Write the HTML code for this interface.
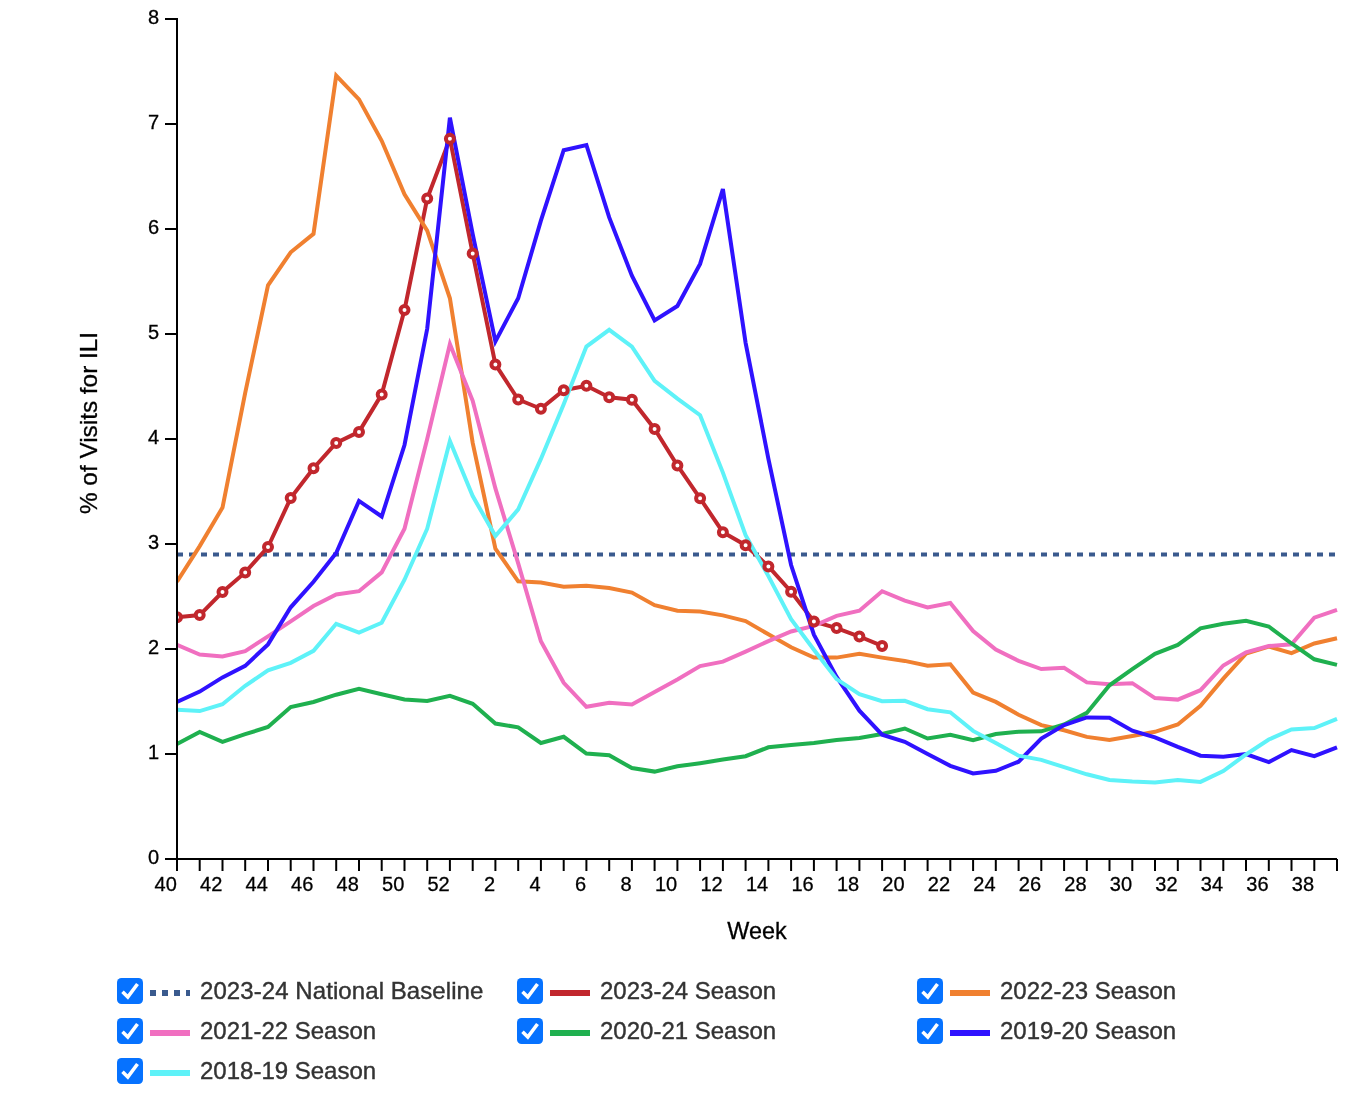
<!DOCTYPE html>
<html lang="en"><head><meta charset="utf-8"><title>ILI Chart</title>
<style>html,body{margin:0;padding:0;background:#fff;}svg{display:block;font-family:'Liberation Sans', Arial, Helvetica, sans-serif;}</style></head><body>
<svg width="1354" height="1094" viewBox="0 0 1354 1094">
<rect width="1354" height="1094" fill="#fff"/>
<defs><clipPath id="clip"><rect x="177" y="0" width="1170" height="870"/></clipPath></defs>
<g clip-path="url(#clip)" fill="none" stroke-width="4">
<line x1="177" y1="554.5" x2="1337" y2="554.5" stroke="#3a5a8e" stroke-width="4" stroke-dasharray="6 6"/>
<polyline points="177.0,617.3 199.7,615.1 222.5,592.0 245.2,572.4 268.0,547.0 290.7,498.1 313.5,468.2 336.2,442.9 359.0,431.9 381.7,394.4 404.5,310.0 427.2,198.5 449.9,138.7 472.7,253.5 495.4,364.4 518.2,399.5 540.9,408.8 563.7,390.2 586.4,385.8 609.2,397.2 631.9,399.7 654.6,428.9 677.4,465.5 700.1,498.3 722.9,532.2 745.6,545.2 768.4,566.4 791.1,591.7 813.9,621.4 836.6,628.1 859.4,636.5 882.1,645.9" stroke="#c1272d"/>
<polyline points="177.0,581.8 199.7,546.1 222.5,507.6 245.2,392.8 268.0,285.4 290.7,252.3 313.5,233.9 336.2,75.7 359.0,99.4 381.7,140.8 404.5,194.4 427.2,230.6 449.9,298.3 472.7,442.9 495.4,548.7 518.2,581.3 540.9,582.6 563.7,586.8 586.4,585.7 609.2,588.1 631.9,592.6 654.6,605.2 677.4,610.8 700.1,611.6 722.9,615.4 745.6,621.0 768.4,634.3 791.1,647.2 813.9,657.6 836.6,657.6 859.4,653.8 882.1,657.6 904.8,660.9 927.6,665.8 950.3,664.2 973.1,692.5 995.8,701.9 1018.6,714.7 1041.3,725.1 1064.1,730.3 1086.8,736.9 1109.5,740.0 1132.3,736.0 1155.0,731.8 1177.8,724.5 1200.5,705.8 1223.3,678.6 1246.0,653.7 1268.8,646.5 1291.5,653.1 1314.3,643.5 1337.0,638.3" stroke="#f08030"/>
<polyline points="177.0,644.8 199.7,654.5 222.5,656.5 245.2,651.1 268.0,636.4 290.7,621.3 313.5,606.0 336.2,594.4 359.0,591.2 381.7,572.4 404.5,528.7 427.2,439.0 449.9,344.0 472.7,400.8 495.4,488.4 518.2,563.3 540.9,641.3 563.7,682.8 586.4,706.8 609.2,702.8 631.9,704.5 654.6,692.0 677.4,679.5 700.1,666.1 722.9,661.6 745.6,651.6 768.4,641.1 791.1,631.5 813.9,625.9 836.6,615.9 859.4,610.7 882.1,591.2 904.8,600.7 927.6,607.5 950.3,603.0 973.1,631.1 995.8,649.6 1018.6,660.9 1041.3,669.1 1064.1,667.7 1086.8,682.4 1109.5,684.2 1132.3,683.2 1155.0,698.1 1177.8,699.6 1200.5,690.2 1223.3,665.5 1246.0,652.3 1268.8,646.1 1291.5,644.3 1314.3,617.6 1337.0,609.9" stroke="#f06fc0"/>
<polyline points="177.0,744.1 199.7,732.0 222.5,741.9 245.2,734.2 268.0,727.0 290.7,707.1 313.5,702.0 336.2,694.7 359.0,688.9 381.7,694.3 404.5,699.4 427.2,700.9 449.9,695.8 472.7,703.8 495.4,723.5 518.2,727.3 540.9,743.0 563.7,736.8 586.4,753.5 609.2,755.3 631.9,768.1 654.6,771.6 677.4,766.3 700.1,763.2 722.9,759.6 745.6,756.2 768.4,747.3 791.1,745.1 813.9,742.9 836.6,740.0 859.4,738.0 882.1,734.0 904.8,728.5 927.6,738.5 950.3,734.7 973.1,740.1 995.8,734.0 1018.6,731.8 1041.3,731.3 1064.1,724.5 1086.8,712.9 1109.5,685.3 1132.3,669.1 1155.0,653.8 1177.8,644.9 1200.5,628.3 1223.3,623.7 1246.0,620.8 1268.8,626.5 1291.5,643.5 1314.3,659.3 1337.0,664.9" stroke="#1fb04f"/>
<polyline points="177.0,702.0 199.7,691.6 222.5,677.4 245.2,665.9 268.0,644.4 290.7,607.3 313.5,581.8 336.2,553.0 359.0,500.9 381.7,516.5 404.5,445.0 427.2,328.8 449.9,117.7 472.7,234.2 495.4,341.4 518.2,298.3 540.9,220.6 563.7,150.2 586.4,145.0 609.2,217.4 631.9,275.7 654.6,320.4 677.4,306.0 700.1,263.9 722.9,189.1 745.6,342.8 768.4,458.9 791.1,565.0 813.9,634.6 836.6,676.9 859.4,710.7 882.1,734.7 904.8,741.8 927.6,754.0 950.3,765.8 973.1,773.4 995.8,770.8 1018.6,761.7 1041.3,738.5 1064.1,725.1 1086.8,717.4 1109.5,717.8 1132.3,730.7 1155.0,737.3 1177.8,746.9 1200.5,755.7 1223.3,756.8 1246.0,754.0 1268.8,762.1 1291.5,750.1 1314.3,756.1 1337.0,747.3" stroke="#2f12ff"/>
<polyline points="177.0,709.8 199.7,711.1 222.5,704.2 245.2,685.8 268.0,670.3 290.7,662.8 313.5,650.8 336.2,623.8 359.0,632.7 381.7,622.8 404.5,579.7 427.2,528.7 449.9,441.1 472.7,496.0 495.4,536.1 518.2,509.3 540.9,458.9 563.7,404.3 586.4,346.6 609.2,329.8 631.9,346.6 654.6,380.8 677.4,398.6 700.1,415.2 722.9,472.6 745.6,535.2 768.4,576.1 791.1,619.1 813.9,649.8 836.6,679.1 859.4,694.1 882.1,701.2 904.8,700.8 927.6,709.2 950.3,712.3 973.1,730.9 995.8,743.0 1018.6,755.7 1041.3,759.9 1064.1,767.2 1086.8,774.3 1109.5,779.9 1132.3,781.6 1155.0,782.4 1177.8,779.9 1200.5,781.9 1223.3,771.0 1246.0,754.5 1268.8,739.5 1291.5,729.5 1314.3,728.0 1337.0,718.9" stroke="#5ef2f8"/>
<g fill="#fff" stroke="#c1272d" stroke-width="4">
<circle cx="177.0" cy="617.3" r="4"/>
<circle cx="199.7" cy="615.1" r="4"/>
<circle cx="222.5" cy="592.0" r="4"/>
<circle cx="245.2" cy="572.4" r="4"/>
<circle cx="268.0" cy="547.0" r="4"/>
<circle cx="290.7" cy="498.1" r="4"/>
<circle cx="313.5" cy="468.2" r="4"/>
<circle cx="336.2" cy="442.9" r="4"/>
<circle cx="359.0" cy="431.9" r="4"/>
<circle cx="381.7" cy="394.4" r="4"/>
<circle cx="404.5" cy="310.0" r="4"/>
<circle cx="427.2" cy="198.5" r="4"/>
<circle cx="449.9" cy="138.7" r="4"/>
<circle cx="472.7" cy="253.5" r="4"/>
<circle cx="495.4" cy="364.4" r="4"/>
<circle cx="518.2" cy="399.5" r="4"/>
<circle cx="540.9" cy="408.8" r="4"/>
<circle cx="563.7" cy="390.2" r="4"/>
<circle cx="586.4" cy="385.8" r="4"/>
<circle cx="609.2" cy="397.2" r="4"/>
<circle cx="631.9" cy="399.7" r="4"/>
<circle cx="654.6" cy="428.9" r="4"/>
<circle cx="677.4" cy="465.5" r="4"/>
<circle cx="700.1" cy="498.3" r="4"/>
<circle cx="722.9" cy="532.2" r="4"/>
<circle cx="745.6" cy="545.2" r="4"/>
<circle cx="768.4" cy="566.4" r="4"/>
<circle cx="791.1" cy="591.7" r="4"/>
<circle cx="813.9" cy="621.4" r="4"/>
<circle cx="836.6" cy="628.1" r="4"/>
<circle cx="859.4" cy="636.5" r="4"/>
<circle cx="882.1" cy="645.9" r="4"/>
</g></g>
<g stroke="#000" stroke-width="2" fill="none">
<line x1="177" y1="18" x2="177" y2="860"/>
<line x1="165" y1="859" x2="1337" y2="859"/>
<line x1="165" y1="859" x2="177" y2="859"/>
<line x1="165" y1="754" x2="177" y2="754"/>
<line x1="165" y1="649" x2="177" y2="649"/>
<line x1="165" y1="544" x2="177" y2="544"/>
<line x1="165" y1="439" x2="177" y2="439"/>
<line x1="165" y1="334" x2="177" y2="334"/>
<line x1="165" y1="229" x2="177" y2="229"/>
<line x1="165" y1="124" x2="177" y2="124"/>
<line x1="165" y1="19" x2="177" y2="19"/>
<line x1="177.0" y1="859" x2="177.0" y2="871"/>
<line x1="199.7" y1="859" x2="199.7" y2="871"/>
<line x1="222.5" y1="859" x2="222.5" y2="871"/>
<line x1="245.2" y1="859" x2="245.2" y2="871"/>
<line x1="268.0" y1="859" x2="268.0" y2="871"/>
<line x1="290.7" y1="859" x2="290.7" y2="871"/>
<line x1="313.5" y1="859" x2="313.5" y2="871"/>
<line x1="336.2" y1="859" x2="336.2" y2="871"/>
<line x1="359.0" y1="859" x2="359.0" y2="871"/>
<line x1="381.7" y1="859" x2="381.7" y2="871"/>
<line x1="404.5" y1="859" x2="404.5" y2="871"/>
<line x1="427.2" y1="859" x2="427.2" y2="871"/>
<line x1="449.9" y1="859" x2="449.9" y2="871"/>
<line x1="472.7" y1="859" x2="472.7" y2="871"/>
<line x1="495.4" y1="859" x2="495.4" y2="871"/>
<line x1="518.2" y1="859" x2="518.2" y2="871"/>
<line x1="540.9" y1="859" x2="540.9" y2="871"/>
<line x1="563.7" y1="859" x2="563.7" y2="871"/>
<line x1="586.4" y1="859" x2="586.4" y2="871"/>
<line x1="609.2" y1="859" x2="609.2" y2="871"/>
<line x1="631.9" y1="859" x2="631.9" y2="871"/>
<line x1="654.6" y1="859" x2="654.6" y2="871"/>
<line x1="677.4" y1="859" x2="677.4" y2="871"/>
<line x1="700.1" y1="859" x2="700.1" y2="871"/>
<line x1="722.9" y1="859" x2="722.9" y2="871"/>
<line x1="745.6" y1="859" x2="745.6" y2="871"/>
<line x1="768.4" y1="859" x2="768.4" y2="871"/>
<line x1="791.1" y1="859" x2="791.1" y2="871"/>
<line x1="813.9" y1="859" x2="813.9" y2="871"/>
<line x1="836.6" y1="859" x2="836.6" y2="871"/>
<line x1="859.4" y1="859" x2="859.4" y2="871"/>
<line x1="882.1" y1="859" x2="882.1" y2="871"/>
<line x1="904.8" y1="859" x2="904.8" y2="871"/>
<line x1="927.6" y1="859" x2="927.6" y2="871"/>
<line x1="950.3" y1="859" x2="950.3" y2="871"/>
<line x1="973.1" y1="859" x2="973.1" y2="871"/>
<line x1="995.8" y1="859" x2="995.8" y2="871"/>
<line x1="1018.6" y1="859" x2="1018.6" y2="871"/>
<line x1="1041.3" y1="859" x2="1041.3" y2="871"/>
<line x1="1064.1" y1="859" x2="1064.1" y2="871"/>
<line x1="1086.8" y1="859" x2="1086.8" y2="871"/>
<line x1="1109.5" y1="859" x2="1109.5" y2="871"/>
<line x1="1132.3" y1="859" x2="1132.3" y2="871"/>
<line x1="1155.0" y1="859" x2="1155.0" y2="871"/>
<line x1="1177.8" y1="859" x2="1177.8" y2="871"/>
<line x1="1200.5" y1="859" x2="1200.5" y2="871"/>
<line x1="1223.3" y1="859" x2="1223.3" y2="871"/>
<line x1="1246.0" y1="859" x2="1246.0" y2="871"/>
<line x1="1268.8" y1="859" x2="1268.8" y2="871"/>
<line x1="1291.5" y1="859" x2="1291.5" y2="871"/>
<line x1="1314.3" y1="859" x2="1314.3" y2="871"/>
<line x1="1337.0" y1="859" x2="1337.0" y2="871"/>
</g>
<g font-size="20" fill="#000" stroke="#000" stroke-width="0.3" text-anchor="end">
<text x="159" y="864">0</text>
<text x="159" y="759">1</text>
<text x="159" y="654">2</text>
<text x="159" y="549">3</text>
<text x="159" y="444">4</text>
<text x="159" y="339">5</text>
<text x="159" y="234">6</text>
<text x="159" y="129">7</text>
<text x="159" y="24">8</text>
<text x="176.8" y="891">40</text>
<text x="222.3" y="891">42</text>
<text x="267.8" y="891">44</text>
<text x="313.3" y="891">46</text>
<text x="358.8" y="891">48</text>
<text x="404.3" y="891">50</text>
<text x="449.7" y="891">52</text>
<text x="495.2" y="891">2</text>
<text x="540.7" y="891">4</text>
<text x="586.2" y="891">6</text>
<text x="631.7" y="891">8</text>
<text x="677.2" y="891">10</text>
<text x="722.7" y="891">12</text>
<text x="768.2" y="891">14</text>
<text x="813.7" y="891">16</text>
<text x="859.2" y="891">18</text>
<text x="904.6" y="891">20</text>
<text x="950.1" y="891">22</text>
<text x="995.6" y="891">24</text>
<text x="1041.1" y="891">26</text>
<text x="1086.6" y="891">28</text>
<text x="1132.1" y="891">30</text>
<text x="1177.6" y="891">32</text>
<text x="1223.1" y="891">34</text>
<text x="1268.6" y="891">36</text>
<text x="1314.1" y="891">38</text>
</g>
<text x="757" y="938.6" font-size="24" text-anchor="middle" fill="#000" stroke="#000" stroke-width="0.3" textLength="59.4" lengthAdjust="spacingAndGlyphs">Week</text>
<text transform="translate(96.8,423) rotate(-90)" font-size="24" text-anchor="middle" fill="#000" stroke="#000" stroke-width="0.3" textLength="182.1" lengthAdjust="spacingAndGlyphs">% of Visits for ILI</text>
<g transform="translate(117,978)">
<rect width="26" height="26" rx="4.5" fill="#0672ff"/>
<path d="M5.5 13.8 L10.8 19 L20.5 6" fill="none" stroke="#fff" stroke-width="3.6"/>
<line x1="33" y1="15" x2="73" y2="15" stroke="#3a5a8e" stroke-width="6" stroke-dasharray="6 6"/>
<text x="83" y="20.5" font-size="24" fill="#333" stroke="#333" stroke-width="0.4" textLength="283.4" lengthAdjust="spacing">2023-24 National Baseline</text>
</g>
<g transform="translate(517,978)">
<rect width="26" height="26" rx="4.5" fill="#0672ff"/>
<path d="M5.5 13.8 L10.8 19 L20.5 6" fill="none" stroke="#fff" stroke-width="3.6"/>
<line x1="33" y1="15" x2="73" y2="15" stroke="#c1272d" stroke-width="6"/>
<text x="83" y="20.5" font-size="24" fill="#333" stroke="#333" stroke-width="0.4">2023-24 Season</text>
</g>
<g transform="translate(917,978)">
<rect width="26" height="26" rx="4.5" fill="#0672ff"/>
<path d="M5.5 13.8 L10.8 19 L20.5 6" fill="none" stroke="#fff" stroke-width="3.6"/>
<line x1="33" y1="15" x2="73" y2="15" stroke="#f08030" stroke-width="6"/>
<text x="83" y="20.5" font-size="24" fill="#333" stroke="#333" stroke-width="0.4">2022-23 Season</text>
</g>
<g transform="translate(117,1018)">
<rect width="26" height="26" rx="4.5" fill="#0672ff"/>
<path d="M5.5 13.8 L10.8 19 L20.5 6" fill="none" stroke="#fff" stroke-width="3.6"/>
<line x1="33" y1="15" x2="73" y2="15" stroke="#f06fc0" stroke-width="6"/>
<text x="83" y="20.5" font-size="24" fill="#333" stroke="#333" stroke-width="0.4">2021-22 Season</text>
</g>
<g transform="translate(517,1018)">
<rect width="26" height="26" rx="4.5" fill="#0672ff"/>
<path d="M5.5 13.8 L10.8 19 L20.5 6" fill="none" stroke="#fff" stroke-width="3.6"/>
<line x1="33" y1="15" x2="73" y2="15" stroke="#1fb04f" stroke-width="6"/>
<text x="83" y="20.5" font-size="24" fill="#333" stroke="#333" stroke-width="0.4">2020-21 Season</text>
</g>
<g transform="translate(917,1018)">
<rect width="26" height="26" rx="4.5" fill="#0672ff"/>
<path d="M5.5 13.8 L10.8 19 L20.5 6" fill="none" stroke="#fff" stroke-width="3.6"/>
<line x1="33" y1="15" x2="73" y2="15" stroke="#2f12ff" stroke-width="6"/>
<text x="83" y="20.5" font-size="24" fill="#333" stroke="#333" stroke-width="0.4">2019-20 Season</text>
</g>
<g transform="translate(117,1058)">
<rect width="26" height="26" rx="4.5" fill="#0672ff"/>
<path d="M5.5 13.8 L10.8 19 L20.5 6" fill="none" stroke="#fff" stroke-width="3.6"/>
<line x1="33" y1="15" x2="73" y2="15" stroke="#5ef2f8" stroke-width="6"/>
<text x="83" y="20.5" font-size="24" fill="#333" stroke="#333" stroke-width="0.4">2018-19 Season</text>
</g>
</svg></body></html>
